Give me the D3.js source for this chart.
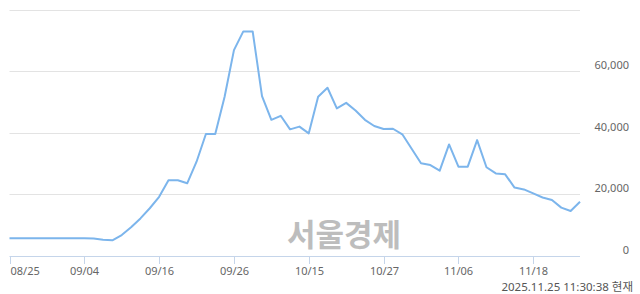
<!DOCTYPE html>
<html>
<head>
<meta charset="utf-8">
<script src="https://cdn.jsdelivr.net/npm/d3@7"></script>
<style>
  body { margin: 0; background: #fff; }
  text { font-family: "Noto Sans", "Noto Sans CJK KR", sans-serif; }
</style>
</head>
<body>
<div id="plot"></div>
<script>
// trading days 08/25 ~ 11/25
var dates = ["08/25","08/26","08/27","08/28","08/29",
  "09/01","09/02","09/03","09/04","09/05",
  "09/08","09/09","09/10","09/11","09/12",
  "09/15","09/16","09/17","09/18","09/19",
  "09/22","09/23","09/24","09/25","09/26",
  "09/29","09/30","10/01","10/02","10/10",
  "10/13","10/14","10/15","10/16","10/17",
  "10/20","10/21","10/22","10/23","10/24",
  "10/27","10/28","10/29","10/30","10/31",
  "11/03","11/04","11/05","11/06","11/07",
  "11/10","11/11","11/12","11/13","11/14",
  "11/17","11/18","11/19","11/20","11/21",
  "11/24","11/25"];

var prices = [5800,5800,5800,5800,5800,5800,5800,5800,5800,5700,
  5300,5100,6800,9300,12200,15500,19200,24600,24600,23600,
  30600,39600,39600,51700,66800,72900,72900,51900,44200,45500,
  41100,42000,39800,51700,54600,47900,49700,47200,44200,42200,
  41200,41300,39500,34800,30100,29500,27700,36200,29000,29000,
  37600,28800,26800,26500,22200,21600,20300,19000,18200,15700,
  14600,17600];

var xTicks = ["08/25","09/04","09/16","09/26","10/15","10/27","11/06","11/18"];
var yTicks = [0, 20000, 40000, 60000];
var yGrid = [20000, 40000, 60000, 80000];
var stamp = "2025.11.25 11:30:38 현재";

var width = 640, height = 294;
var plotLeft = 9.5, plotRight = 580, plotTop = 9.5, plotBottom = 256;

var svg = d3.select("#plot").append("svg")
  .attr("width", width)
  .attr("height", height);

var x = d3.scalePoint().domain(dates).range([plotLeft, plotRight]);
var y = d3.scaleLinear().domain([0, 80000]).range([plotBottom, plotTop]);

// grid
svg.selectAll(".grid")
  .data(yGrid)
  .join("line")
  .attr("class", "grid")
  .attr("x1", plotLeft).attr("x2", plotRight)
  .attr("y1", d => Math.round(y(d)) + 0.5)
  .attr("y2", d => Math.round(y(d)) + 0.5)
  .style("stroke", "#e3e3e3")
  .style("stroke-width", 1);

// watermark
svg.append("text")
  .attr("x", 344).attr("y", 246)
  .attr("text-anchor", "middle")
  .style("font-family", "'Noto Sans CJK KR', sans-serif")
  .style("font-weight", "bold")
  .style("font-size", "31px")
  .style("fill", "#bdbdbd")
  .text("서울경제");

// x axis line
svg.append("line")
  .attr("x1", plotLeft).attr("x2", plotRight)
  .attr("y1", plotBottom + 0.5).attr("y2", plotBottom + 0.5)
  .style("stroke", "#c5d5ea");

var tick = svg.selectAll(".xtick")
  .data(xTicks)
  .join("g")
  .attr("class", "xtick")
  .attr("transform", d => `translate(${Math.round(x(d)) + 0.5},${plotBottom})`);

tick.append("line")
  .attr("y1", 0).attr("y2", 8)
  .style("stroke", "#c5d5ea");

tick.append("text")
  .attr("y", 19)
  .attr("text-anchor", (d, i) => i == 0 ? "start" : "middle")
  .style("font-size", "11px")
  .style("fill", "#666")
  .text(d => d);

// y labels on the right
svg.selectAll(".ylab")
  .data(yTicks)
  .join("text")
  .attr("class", "ylab")
  .attr("x", 629)
  .attr("y", d => y(d) - 2)
  .attr("text-anchor", "end")
  .style("font-size", "11px")
  .style("fill", "#666")
  .text(d => d3.format(",")(d));

// price line
var line = d3.line()
  .x((d, i) => x(dates[i]))
  .y(d => y(d));

svg.append("path")
  .datum(prices)
  .attr("d", line)
  .style("fill", "none")
  .style("stroke", "#7cb5ec")
  .style("stroke-width", 2)
  .style("stroke-linejoin", "round");

svg.append("text")
  .attr("x", 633).attr("y", 291)
  .attr("text-anchor", "end")
  .style("font-size", "11.5px")
  .style("fill", "#555")
  .text(stamp);
</script>
</body>
</html>
